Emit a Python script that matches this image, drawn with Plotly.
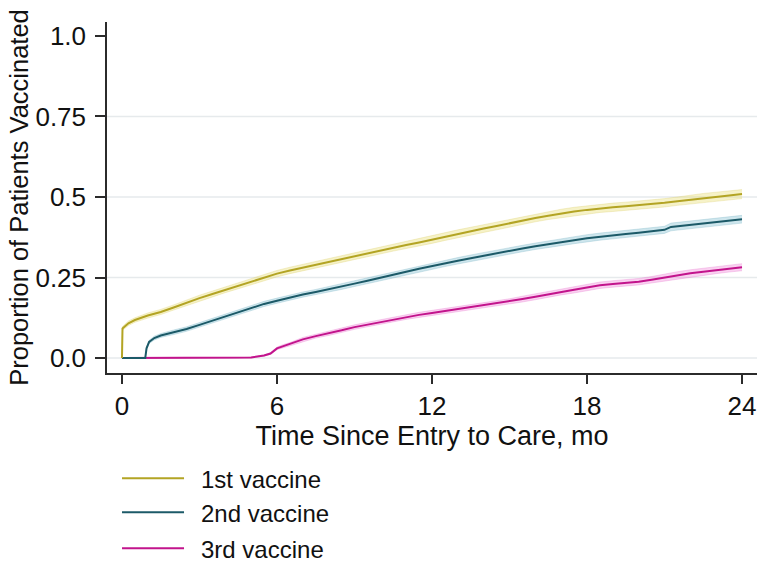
import plotly.graph_objects as go

# ---------------- data ----------------
x_ticks = [0, 6, 12, 18, 24]
y_ticks = [0, 0.25, 0.5, 0.75, 1.0]
y_tick_labels = ["0.0", "0.25", "0.5", "0.75", "1.0"]
grid_values = [0, 0.25, 0.5, 0.75]

series_names = ["1st vaccine", "2nd vaccine", "3rd vaccine"]

# 1st vaccine
v1_t = [0, 0.02, 0.25, 0.5, 1, 1.5, 2, 2.5, 3, 3.5, 4, 4.5, 5, 5.5, 6, 6.5, 7, 7.5,
        8, 8.5, 9, 9.5, 10, 10.5, 11, 11.5, 12, 12.5, 13, 13.5, 14, 14.5, 15, 15.5,
        16, 16.5, 17, 17.5, 18, 18.5, 19, 19.5, 20, 20.5, 21, 21.5, 22, 22.5, 23, 23.5, 24]
v1_p = [0, 0.092, 0.108, 0.118, 0.132, 0.143, 0.157, 0.172, 0.186, 0.199, 0.212, 0.225,
        0.238, 0.25, 0.262, 0.272, 0.281, 0.29, 0.299, 0.308, 0.317, 0.326, 0.335, 0.343,
        0.351, 0.359, 0.368, 0.377, 0.386, 0.394, 0.402, 0.41, 0.419, 0.427, 0.435, 0.442,
        0.449, 0.455, 0.46, 0.465, 0.468, 0.471, 0.474, 0.478, 0.482, 0.487, 0.492, 0.497,
        0.501, 0.505, 0.509]
v1_ci = [0, 0.006, 0.007, 0.007, 0.008, 0.008, 0.008, 0.009, 0.009, 0.009, 0.009,
         0.01, 0.01, 0.01, 0.01, 0.01, 0.01,
         0.011, 0.011, 0.011, 0.011, 0.011, 0.011, 0.011, 0.011,
         0.012, 0.012, 0.012, 0.012, 0.012, 0.012, 0.012, 0.012, 0.012, 0.012, 0.012,
         0.013, 0.013, 0.013, 0.013, 0.013, 0.013, 0.013, 0.013, 0.013, 0.013,
         0.014, 0.014, 0.014, 0.014, 0.014]

# 2nd vaccine
v2_t = [0, 0.9, 0.95, 1.05, 1.25, 1.5, 2, 2.5, 3, 3.5, 4, 4.5, 5, 5.5, 6, 6.5, 7, 7.5,
        8, 8.5, 9, 9.5, 10, 10.5, 11, 11.5, 12, 12.5, 13, 13.5, 14, 14.5, 15, 15.5, 16,
        16.5, 17, 17.5, 18, 18.5, 19, 19.5, 20, 20.5, 21, 21.25, 21.5, 22, 22.5, 23, 23.5, 24]
v2_p = [0, 0, 0.03, 0.05, 0.062, 0.07, 0.08, 0.09, 0.103, 0.116, 0.13, 0.143, 0.156,
        0.168, 0.178, 0.188, 0.197, 0.205, 0.213, 0.222, 0.231, 0.24, 0.25, 0.259, 0.268,
        0.277, 0.286, 0.294, 0.302, 0.31, 0.318, 0.325, 0.332, 0.34, 0.347, 0.354, 0.36,
        0.366, 0.372, 0.377, 0.381, 0.385, 0.389, 0.393, 0.398, 0.407, 0.409, 0.413,
        0.417, 0.421, 0.426, 0.431]
v2_ci = [0, 0, 0.003, 0.005, 0.006, 0.006,
         0.007, 0.007, 0.007, 0.007, 0.007, 0.007,
         0.008, 0.008, 0.008, 0.008, 0.008, 0.008,
         0.009, 0.009, 0.009, 0.009, 0.009, 0.009, 0.009, 0.009,
         0.01, 0.01, 0.01, 0.01, 0.01, 0.01, 0.01, 0.01, 0.01, 0.01,
         0.011, 0.011, 0.011, 0.011, 0.011, 0.011, 0.011, 0.011, 0.011,
         0.012, 0.012, 0.012, 0.012, 0.012, 0.012, 0.012]

# 3rd vaccine
v3_t = [0, 4.5, 5, 5.5, 5.75, 6, 6.25, 6.5, 7, 7.5, 8, 8.5, 9, 9.5, 10, 10.5, 11, 11.5,
        12, 12.5, 13, 13.5, 14, 14.5, 15, 15.5, 16, 16.5, 17, 17.5, 18, 18.5, 19, 19.5,
        20, 20.5, 21, 21.5, 22, 22.5, 23, 23.5, 24]
v3_p = [0, 0, 0.002, 0.008, 0.014, 0.03, 0.037, 0.043, 0.058, 0.068, 0.076, 0.086,
        0.096, 0.104, 0.112, 0.12, 0.127, 0.134, 0.14, 0.146, 0.152, 0.157, 0.163, 0.169,
        0.175, 0.183, 0.19, 0.198, 0.205, 0.212, 0.219, 0.226, 0.23, 0.233, 0.237, 0.243,
        0.25, 0.257, 0.263, 0.268, 0.273, 0.278, 0.282]
v3_ci = [0, 0, 0.001, 0.002, 0.003, 0.004, 0.005, 0.005,
         0.006, 0.006, 0.006, 0.006,
         0.007, 0.007, 0.007, 0.007, 0.007,
         0.008, 0.008, 0.008, 0.008, 0.008, 0.008,
         0.009, 0.009, 0.009, 0.009, 0.009, 0.009,
         0.01, 0.01, 0.01, 0.01, 0.01, 0.01, 0.01,
         0.011, 0.011, 0.011, 0.011, 0.011, 0.011, 0.011]

# ---------------- styling ----------------
FONT = "Liberation Sans, Arial, sans-serif"
line_colors = ["#b3a424", "#1c5a68", "#c2148c"]
band_fills = ["rgba(232,222,110,0.38)", "rgba(120,185,205,0.36)", "rgba(240,120,215,0.34)"]
band_edges = ["rgba(215,200,90,0.35)", "rgba(110,170,190,0.35)", "rgba(225,110,200,0.35)"]

data = [(v1_t, v1_p, v1_ci), (v2_t, v2_p, v2_ci), (v3_t, v3_p, v3_ci)]

fig = go.Figure()

# confidence bands first
for i in [2, 1, 0]:
    t, p, ci = data[i]
    upper = [a + b for a, b in zip(p, ci)]
    lower = [a - b for a, b in zip(p, ci)]
    fig.add_trace(go.Scatter(x=t, y=upper, mode="lines",
                             line=dict(color=band_edges[i], width=0.8),
                             showlegend=False, hoverinfo="skip"))
    fig.add_trace(go.Scatter(x=t, y=lower, mode="lines", fill="tonexty",
                             fillcolor=band_fills[i],
                             line=dict(color=band_edges[i], width=0.8),
                             showlegend=False, hoverinfo="skip"))

# lines: 3rd, 2nd, 1st
for i in [2, 1, 0]:
    t, p, ci = data[i]
    fig.add_trace(go.Scatter(x=t, y=p, mode="lines", name=series_names[i],
                             line=dict(color=line_colors[i], width=2),
                             showlegend=False))

shapes = []
for g in grid_values:
    shapes.append(dict(type="line", xref="paper", x0=0, x1=1, yref="y", y0=g, y1=g,
                       line=dict(color="#e6eaec", width=1.5), layer="below"))

# custom legend below the plot
leg_y = [-0.300, -0.397, -0.499]
annotations = []
for i, name in enumerate(series_names):
    shapes.append(dict(type="line", xref="paper", yref="paper",
                       x0=0.0231, x1=0.1185, y0=leg_y[i], y1=leg_y[i],
                       line=dict(color=line_colors[i], width=2)))
    annotations.append(dict(xref="paper", yref="paper", x=0.1415, y=leg_y[i] - 0.004,
                            text=name, showarrow=False, xanchor="left", yanchor="middle",
                            font=dict(family=FONT, size=24, color="#111111")))

fig.update_layout(
    width=760, height=562,
    margin=dict(l=107, r=3, t=22, b=189, autoexpand=False),
    paper_bgcolor="white", plot_bgcolor="white",
    font=dict(family=FONT, color="#111111"),
    showlegend=False,
    shapes=shapes,
    annotations=annotations,
    xaxis=dict(range=[-0.58, 24.58], tickvals=x_ticks, ticktext=[str(v) for v in x_ticks],
               showgrid=False, zeroline=False, showline=True, linecolor="#2b2b2b",
               linewidth=1.5, ticks="outside", ticklen=9, tickwidth=1.5, tickcolor="#2b2b2b",
               tickfont=dict(size=26, family=FONT, color="#111111"),
               title=dict(text="Time Since Entry to Care, mo",
                          font=dict(size=27, family=FONT, color="#111111"), standoff=0)),
    yaxis=dict(range=[-0.0465, 1.0434], tickvals=y_ticks, ticktext=y_tick_labels,
               showgrid=False, zeroline=False, showline=True, linecolor="#2b2b2b",
               linewidth=1.5, ticks="outside", ticklen=10, tickwidth=1.5, tickcolor="#2b2b2b",
               ticklabelstandoff=4,
               tickfont=dict(size=26, family=FONT, color="#111111"),
               title=dict(text="Proportion of Patients Vaccinated",
                          font=dict(size=25.5, family=FONT, color="#111111"), standoff=0)),
)

fig.write_html("out.html", post_script="document.body.style.margin='0';",
               config={"displayModeBar": False})
